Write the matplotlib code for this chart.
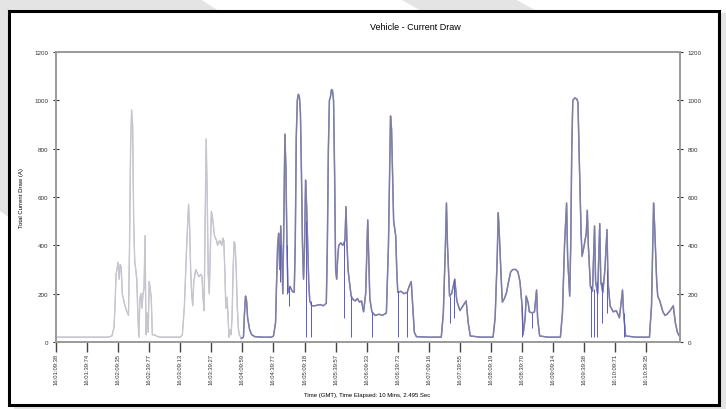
import matplotlib
matplotlib.use("Agg")
import matplotlib.pyplot as plt
from matplotlib.patches import Rectangle, Polygon

plt.rcParams['font.family'] = ['Liberation Sans', 'DejaVu Sans']

# first recording (light trace), seconds / amps
run1_t = [0, 50, 54, 56, 57, 58, 60, 61, 62, 63, 64, 66, 68, 70, 71, 72, 73, 74, 75, 76,
          77, 78, 79, 80, 81, 82, 83, 84, 85, 86, 86.5, 87, 88, 89, 90, 91, 92, 93, 95, 97,
          100, 120, 122, 124, 126, 128, 129, 130, 131, 132, 133, 135, 136, 138, 140, 141,
          142, 143, 144, 145, 146, 147, 148, 149, 150, 151, 152, 153, 155, 156, 158, 160,
          161, 162, 163, 164, 165, 166, 167, 168, 169, 170, 171, 172, 173, 174, 175, 176,
          177, 179]
run1_a = [20, 20, 25, 60, 150, 280, 330, 260, 320, 310, 200, 160, 130, 110, 400, 800, 960, 900, 500, 335,
          300, 260, 120, 20, 180, 200, 140, 200, 220, 440, 200, 30, 120, 40, 250, 220, 180, 30, 30, 25,
          20, 20, 30, 150, 380, 570, 480, 300, 200, 150, 250, 300, 290, 270, 280, 270,
          180, 130, 500, 840, 600, 280, 200, 380, 540, 520, 480, 440, 420, 400, 420, 400,
          430, 420, 300, 140, 185, 120, 20, 50, 30, 100, 300, 415, 400, 300, 150, 60,
          30, 15]

# second recording (dark trace)
run2_t = [179, 181, 182, 183, 184, 185, 187, 189, 192, 200, 208, 210, 212, 213, 214, 215, 216, 217, 218, 219,
          220, 221, 222, 223, 224, 226, 228, 230, 231, 232, 233, 234, 235, 236, 237, 238, 239, 240, 241, 242,
          243, 244, 245, 247, 250, 255, 258, 261, 262, 263, 264, 265, 266, 267, 268, 269, 270, 271, 272, 273,
          275, 277, 279, 280, 281, 282, 283, 285, 287, 289, 291, 293, 295, 297, 299, 301, 302, 303, 305, 308,
          312, 315, 319, 321, 323, 324, 326, 328, 329, 330, 333, 336, 339, 341, 343, 344, 346, 348, 360, 372,
          374, 376, 377, 378, 380, 382, 385, 387, 390, 393, 396, 398, 400, 410, 422, 424, 426, 427, 428, 430,
          431, 433, 435, 437, 439, 441, 444, 446, 448, 450, 451, 453, 454, 456, 457, 460, 462, 464, 465, 467,
          475, 487, 489, 491, 493, 494, 496, 497, 498, 499, 501, 503, 504, 505, 507, 508, 510, 512, 513, 514,
          516, 518, 520, 521, 523, 525, 526, 528, 530, 532, 533, 535, 538, 541, 544, 547, 548, 550, 560, 573,
          575, 577, 578, 580, 581, 583, 586, 588, 590, 593, 596, 598, 600, 602.5]
run2_a = [15, 20, 120, 190, 170, 100, 50, 30, 22, 20, 20, 25, 80, 250, 400, 450, 300, 480, 350, 200,
          500, 860, 715, 400, 205, 230, 210, 205, 400, 850, 1000, 1025, 1015, 950, 700, 400, 260, 400, 670, 560,
          400, 250, 170, 150, 150, 155, 150, 160, 400, 800, 1000, 1015, 1045, 1040, 1000, 700, 300, 260, 350, 400,
          410, 400, 420, 560, 400, 300, 260, 190, 175, 170, 180, 165, 170, 125, 200, 505, 350, 180, 125, 110,
          115, 110, 120, 400, 935, 880, 500, 440, 300, 205, 210, 200, 205, 230, 250, 180, 40, 22, 20, 20,
          120, 400, 575, 400, 190, 200, 260, 170, 130, 150, 170, 80, 25, 20, 20, 100, 350, 535, 450, 250,
          165, 180, 205, 250, 290, 300, 300, 290, 250, 150, 30, 100, 190, 160, 125, 120, 125, 215, 100, 25,
          20, 20, 120, 400, 575, 350, 190, 400, 800, 1000, 1010, 1005, 990, 800, 450, 355, 400, 450, 545, 400,
          230, 210, 480, 250, 200, 490, 250, 205, 300, 465, 250, 150, 125, 130, 100, 215, 120, 25, 20, 20,
          150, 575, 480, 250, 190, 170, 125, 110, 115, 130, 150, 80, 40, 20]

# raw-sample dropouts (blue spikes): time, low, high
dip_t = [216, 223, 225, 241, 246, 278, 285, 305, 330, 339, 380, 384, 450, 460, 517, 519, 522, 527, 532, 548]
dip_lo = [250, 200, 150, 20, 20, 100, 20, 20, 20, 20, 80, 100, 20, 60, 20, 20, 20, 80, 120, 20]
dip_hi = [400, 400, 230, 500, 170, 420, 190, 125, 210, 205, 190, 260, 150, 120, 230, 220, 250, 250, 300, 120]

tick_t = [0, 30, 60, 90, 120, 150, 180, 210, 240, 270, 300, 330, 360, 390, 420, 450, 480, 510, 540, 570]
tick_labels = ["16:01:09:38", "16:01:39:74", "16:02:09:35", "16:02:39:77", "16:03:09:13",
               "16:03:39:27", "16:04:09:59", "16:04:39:77", "16:05:09:18", "16:05:39:57",
               "16:06:09:33", "16:06:39:73", "16:07:09:16", "16:07:39:55", "16:08:09:19",
               "16:08:39:70", "16:09:09:14", "16:09:39:38", "16:10:09:71", "16:10:39:35"]
y_ticks = [0, 200, 400, 600, 800, 1000, 1200]

W, H = 726, 410
fig = plt.figure(figsize=(W / 100, H / 100), dpi=100)
fig.patch.set_facecolor("#e4e4e4")

# page watermark stripes behind the frame
for pts in ([(200, 0), (400, 0), (425, 14), (222, 14)],
            [(515, 0), (726, 0), (726, 14), (540, 14)],
            [(0, 212), (14, 222), (14, 410), (0, 410)]):
    fig.patches.append(Polygon([(x / W, 1 - y / H) for x, y in pts], closed=True, zorder=-20,
                               transform=fig.transFigure, facecolor="white", edgecolor="none"))

fig.patches.append(Rectangle((9 / W, 1 - 406 / H), 710 / W, 394 / H, transform=fig.transFigure,
                             facecolor="white", edgecolor="black", linewidth=2.2, zorder=-10))

ax = fig.add_axes([56 / W, 1 - 343 / H, 624 / W, 290 / H])
ax.set_facecolor("white")

ax.plot(run1_t, run1_a, color="#8e8ed6", lw=0.7, alpha=0.6)
ax.plot(run1_t, run1_a, color="#c6c6cc", lw=1.0)
ax.plot(run2_t, run2_a, color="#4c4cc0", lw=0.9)
ax.plot(run2_t, run2_a, color="#8a8a9e", lw=1.1, alpha=0.8)
ax.vlines(dip_t, dip_lo, dip_hi, color="#5a5ad0", lw=0.7)

ax.set_xlim(0, 602.5)
ax.set_ylim(0, 1200)
ax.set_yticks(y_ticks)
ax.set_xticks(tick_t)
ax.set_xticklabels(tick_labels, rotation=90, fontsize=4.2, color="#333333")
ax.tick_params(axis="y", labelsize=4.5, colors="#333333", direction="inout", length=4, width=0.8)
ax.tick_params(axis="x", direction="out", length=7, width=1.0, color="#444444", pad=1)

ax2 = ax.twinx()
ax2.set_ylim(0, 1200)
ax2.set_yticks(y_ticks)
ax2.tick_params(axis="y", labelsize=4.5, colors="#333333", direction="inout", length=4, width=0.8)

for a in (ax, ax2):
    for s in a.spines.values():
        s.set_color("#9c9c9c")
        s.set_linewidth(1.4)

fig.text(415 / W, 1 - 27 / H, "Vehicle - Current Draw", ha="center", va="center", fontsize=6.5)
fig.text(22 / W, 1 - 198 / H, "Total Current Draw (A)", ha="center", va="center",
         rotation=90, fontsize=4.3)
fig.text(367 / W, 1 - 396 / H, "Time (GMT), Time Elapsed: 10 Mins, 2.495 Sec", ha="center",
         va="center", fontsize=4.3)

fig.savefig("out.png", dpi=100)
